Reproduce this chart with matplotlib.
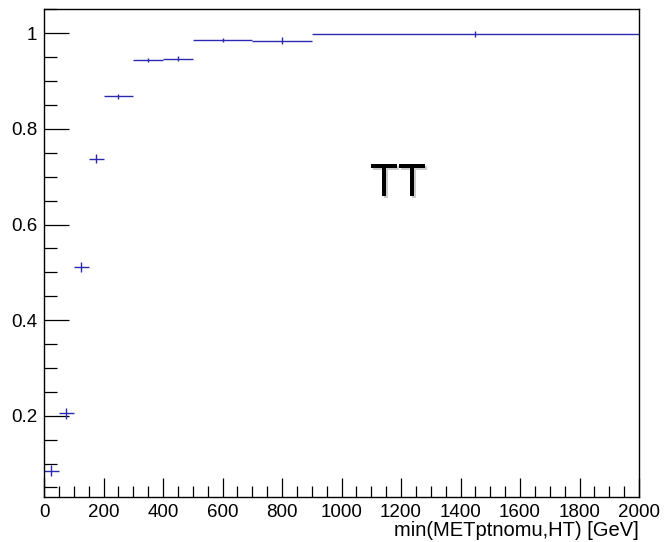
import matplotlib
matplotlib.use("Agg")
import matplotlib.pyplot as plt
import matplotlib.patheffects as pe
from matplotlib.ticker import MultipleLocator, FixedLocator
import numpy as np

bin_edges = [0, 50, 100, 150, 200, 300, 400, 500, 700, 900, 2000]
eff = [0.085, 0.205, 0.511, 0.738, 0.868, 0.944, 0.947, 0.987, 0.985, 0.998]
err = [0.012, 0.011, 0.011, 0.010, 0.005, 0.004, 0.005, 0.004, 0.008, 0.006]

plt.rcParams['font.family'] = ['Liberation Sans', 'DejaVu Sans']
fig = plt.figure(figsize=(6.64, 5.42), dpi=100)
ax = fig.add_axes([44/664, 45/542, (639-44)/664, (497-9)/542])

edges = np.array(bin_edges)
centers = 0.5*(edges[:-1]+edges[1:])
halfw = 0.5*(edges[1:]-edges[:-1])
ax.errorbar(centers, eff, xerr=halfw, yerr=err, fmt='none', ecolor='#2a2ab0',
            elinewidth=1.0, capsize=0)

ax.set_xlim(0, 2000)
ax.set_ylim(0.030, 1.051)
ax.xaxis.set_major_locator(MultipleLocator(200))
ax.xaxis.set_minor_locator(MultipleLocator(50))
ax.yaxis.set_major_locator(FixedLocator([0.2, 0.4, 0.6, 0.8, 1.0]))
ax.yaxis.set_minor_locator(MultipleLocator(0.05))
ax.set_yticklabels(['0.2', '0.4', '0.6', '0.8', '1'])
ax.tick_params(axis='x', which='major', direction='in', length=14, width=0.9, labelsize=13.5, pad=5, top=False)
ax.tick_params(axis='x', which='minor', direction='in', length=8, width=0.9, top=False)
ax.tick_params(axis='y', which='major', direction='in', length=18, width=0.9, labelsize=13.5, pad=5, right=False)
ax.tick_params(axis='y', which='minor', direction='in', length=9, width=0.9, right=False)
for s in ax.spines.values():
    s.set_linewidth(1)

ax.set_xlabel('min(METptnomu,HT) [GeV]', fontsize=14.5, loc='right', labelpad=0)

ax.text(1190, 0.685, 'TT', fontsize=33, ha='center', va='center', color='black',
        path_effects=[pe.withSimplePatchShadow(offset=(1.5, -1.5), shadow_rgbFace='#aaaaaa', alpha=0.6), pe.Normal()])

fig.savefig('out.png', dpi=100)
